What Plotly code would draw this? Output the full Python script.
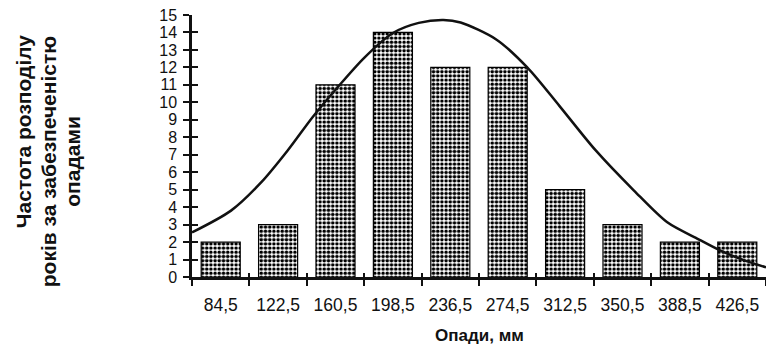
import plotly.graph_objects as go

categories = ["84,5", "122,5", "160,5", "198,5", "236,5", "274,5", "312,5", "350,5", "388,5", "426,5"]
frequency = [2, 3, 11, 14, 12, 12, 5, 3, 2, 2]

# fitted curve (x in category-index units)
curve_x = [-0.5, 0.18, 0.7, 1.17, 1.6, 2.06, 2.5, 3.0, 3.45, 3.88, 4.18, 4.8, 5.34, 5.9, 6.53, 7.2, 7.78, 8.3, 8.7, 9.1, 9.5]
curve_y = [2.55, 3.8, 5.4, 7.26, 9.15, 10.95, 12.55, 13.97, 14.55, 14.72, 14.57, 13.6, 12.0, 9.8, 7.26, 4.95, 3.13, 2.2, 1.52, 0.98, 0.55]

y_title_lines = ["Частота розподілу", "років за забезпеченістю", "опадами"]
x_title = "Опади, мм"

FONT = "Liberation Sans, Arial, sans-serif"

fig = go.Figure()
fig.add_trace(go.Bar(
    x=categories, y=frequency,
    marker=dict(color="white", line=dict(color="black", width=1.2),
                pattern=dict(shape=".", fgcolor="black", bgcolor="white",
                             fgopacity=1, size=4.2, solidity=0.55)),
    xaxis="x", yaxis="y", showlegend=False,
))
fig.add_trace(go.Scatter(
    x=curve_x, y=curve_y, mode="lines",
    line=dict(color="#111", width=2.5, shape="spline", smoothing=0.8),
    xaxis="x2", yaxis="y2", showlegend=False, cliponaxis=False,
))

fig.update_layout(
    width=766, height=347,
    margin=dict(l=192, r=0, t=15, b=70),
    paper_bgcolor="white", plot_bgcolor="white",
    bargap=0.32,
    font=dict(family=FONT, size=17, color="#111"),
    xaxis=dict(type="category", range=[-0.5, 9.5], tickson="boundaries",
               ticks="outside", ticklen=6, tickwidth=2, tickcolor="#111",
               showline=True, linewidth=2.5, linecolor="#111",
               showgrid=False, zeroline=False, ticklabelstandoff=10,
               tickfont=dict(size=17.5, family=FONT)),
    yaxis=dict(range=[0, 15], dtick=1, ticks="outside", ticklen=6, tickwidth=2,
               tickcolor="#111", showline=True, linewidth=2.5, linecolor="#111",
               showgrid=False, zeroline=False, ticklabelstandoff=3,
               tickfont=dict(size=16, family=FONT)),
    xaxis2=dict(overlaying="x", anchor="y2", side="bottom", range=[-0.5, 9.5],
                tickvals=[i - 0.5 for i in range(11)], ticks="inside", ticklen=4,
                tickwidth=2, tickcolor="#111", showticklabels=False,
                showline=False, showgrid=False, zeroline=False),
    yaxis2=dict(overlaying="y", anchor="x2", side="left", range=[0, 15], dtick=1,
                ticks="inside", ticklen=6, tickwidth=2, tickcolor="#111",
                showticklabels=False, showline=False, showgrid=False, zeroline=False),
)

annotations = [dict(text="<b>%s</b>" % x_title, xref="paper", yref="paper",
                    x=0.5, y=-0.225, xanchor="center", yanchor="middle",
                    showarrow=False, font=dict(size=17, family=FONT, color="#111"))]
title_px = [23, 48, 73]
title_py = [131, 161, 161.5]
for px, py, line in zip(title_px, title_py, y_title_lines):
    annotations.append(dict(text="<b>%s</b>" % line, xref="paper", yref="paper",
                            x=(px - 192) / 574, y=(276.5 - py) / 261.5,
                            xanchor="center", yanchor="middle", textangle=-90,
                            showarrow=False, font=dict(size=21, family=FONT, color="#111")))
fig.update_layout(annotations=annotations)

fig.write_html("out.html")
